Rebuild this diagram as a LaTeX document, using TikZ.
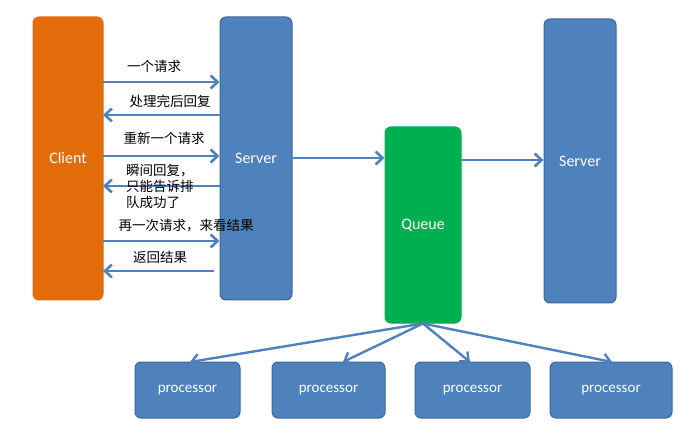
\documentclass[tikz,border=0pt]{standalone}
\usepackage{fontspec}
\setmainfont{Carlito}
\newfontfamily\cjk{Noto Sans CJK SC}
\usetikzlibrary{arrows.meta}
\definecolor{cblue}{HTML}{4F81BD}
\definecolor{cdblue}{HTML}{3C6896}
\definecolor{corange}{HTML}{E36C0A}
\definecolor{cgreen}{HTML}{00B050}
\begin{document}
\begin{tikzpicture}[x=1pt,y=-1pt,
  box/.style={draw=cdblue,line width=1pt,fill=cblue,rounded corners=6pt,text=white,font=\fontsize{16}{18}\selectfont},
  arr/.style={draw=cblue,line width=2.6pt,-{Straight Barb[length=7pt,width=13pt]}},
  lab/.style={font=\cjk\fontsize{13.5}{16}\selectfont,align=left,inner sep=0pt}]
\useasboundingbox (0,0) rectangle (698,435);
\node[box,fill=corange,draw=corange,minimum width=70pt,minimum height=283pt] (client) at (68,158.5) {Client};
\node[box,minimum width=72pt,minimum height=283pt] (s1) at (256,158.5) {Server};
\node[box,fill=cgreen,draw=cgreen,minimum width=76pt,minimum height=196pt] (q) at (423,225) {Queue};
\node[box,minimum width=72pt,minimum height=284pt] (s2) at (580,161) {Server};
\foreach \n/\a/\b in {p1/135/240,p2/272/385,p3/415/530,p4/550/672}
  \node[box,minimum width={\b-\a},minimum height=56pt,font=\fontsize{15}{17}\selectfont] (\n) at ({(\a+\b)/2},390) {processor};
\coordinate (c1) at (103,82); \coordinate (c2) at (103,115); \coordinate (c3) at (103,156);
\coordinate (c4) at (103,186); \coordinate (c5) at (103,241); \coordinate (c6) at (103,271);
\draw[arr] (c1) -- (c1 -| s1.west);
\draw[arr] (c2 -| s1.west) -- (c2);
\draw[arr] (c3) -- (c3 -| s1.west);
\draw[arr] (c4 -| s1.west) -- (c4);
\draw[arr] (c5) -- (c5 -| s1.west);
\draw[arr] ([xshift=-6pt]c6 -| s1.west) -- (c6);
\node[lab] (l1) at (154,66) {一个请求};
\node[lab] (l2) at (170,101) {处理完后回复};
\node[lab] (l3) at (164,138) {重新一个请求};
\node[lab,anchor=north west] (l4) at (126,164) {瞬间回复，\\只能告诉排\\队成功了};
\node[lab] (l5) at (186,226) {再一次请求，来看结果};
\node[lab] (l6) at (160,257) {返回结果};
\draw[arr] (s1.east |- 0,158) -- (q.west |- 0,158);
\draw[arr] (q.east |- 0,160) -- (s2.west |- 0,160);
\foreach \n/\x in {p1/190,p2/343,p3/470,p4/612}
  \draw[arr,line width=2.4pt] (q.south) -- (\x,362);
\end{tikzpicture}
\end{document}
